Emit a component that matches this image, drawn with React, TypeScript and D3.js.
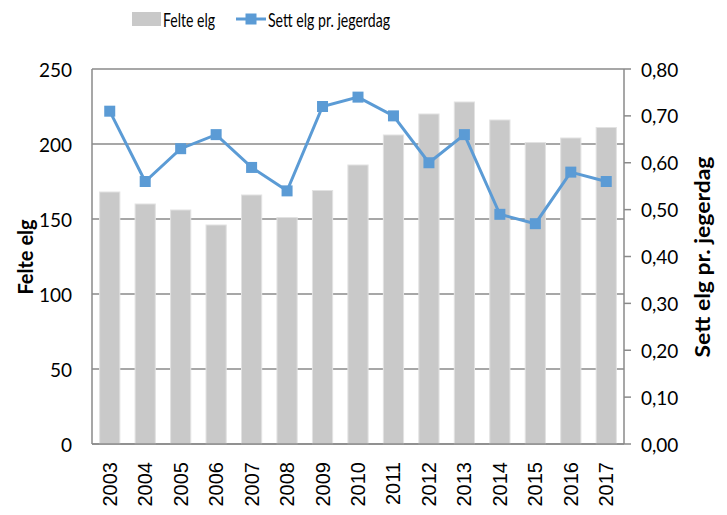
import React from "react";
import * as d3 from "d3";

const years = ["2003","2004","2005","2006","2007","2008","2009","2010","2011","2012","2013","2014","2015","2016","2017"];
const felteElg = [168,160,156,146,166,151,169,186,206,220,228,216,201,204,211];
const settElg = [0.71,0.56,0.63,0.66,0.59,0.54,0.72,0.74,0.70,0.60,0.66,0.49,0.47,0.58,0.56];
const leftTicks = [0,50,100,150,200,250];
const rightTicks = [0,0.1,0.2,0.3,0.4,0.5,0.6,0.7,0.8];

const W = 727, H = 515;
const M = { left: 92, right: 624, top: 69, bottom: 444 };
const FONT = "Lato, 'Open Sans', sans-serif";
const GRID = "#8a8a8a";
const BAR = "#c9c9c9";
const LINE = "#5b9bd5";

export default function App() {
  const x = d3.scaleBand<string>().domain(years).range([M.left, M.right]).paddingInner(0.43).paddingOuter(0.215);
  const yL = d3.scaleLinear().domain([0, 250]).range([M.bottom, M.top]);
  const yR = d3.scaleLinear().domain([0, 0.8]).range([M.bottom, M.top]);
  const fmt = (v: number) => v.toFixed(2).replace(".", ",");
  const line = d3.line<number>().x((_, i) => x(years[i])! + x.bandwidth() / 2).y(d => yR(d));
  const ms = 11;

  return (
    <svg width={W} height={H} style={{ position: "absolute", left: 0, top: 0, background: "#fff" }} fontFamily={FONT}>
      {leftTicks.map(t => (
        <line key={"g" + t} x1={M.left} x2={M.right} y1={yL(t)} y2={yL(t)} stroke={GRID} strokeWidth={1.5} />
      ))}
      {felteElg.map((v, i) => (
        <rect key={"b" + i} x={x(years[i])} y={yL(v)} width={x.bandwidth()} height={yL(0) - yL(v)} fill={BAR} stroke="#e2e2e2" strokeWidth={1} />
      ))}
      <line x1={M.left} x2={M.left} y1={M.top} y2={M.bottom} stroke={GRID} strokeWidth={1.5} />
      <line x1={M.right} x2={M.right} y1={M.top} y2={M.bottom} stroke={GRID} strokeWidth={1.5} />
      <line x1={M.left} x2={M.right} y1={M.bottom} y2={M.bottom} stroke={GRID} strokeWidth={1.5} />
      {rightTicks.map(t => (
        <line key={"rt" + t} x1={M.right} x2={M.right + 7} y1={yR(t)} y2={yR(t)} stroke={GRID} strokeWidth={1.5} />
      ))}
      {leftTicks.map(t => (
        <text key={"lt" + t} x={72} y={yL(t)} textAnchor="end" dominantBaseline="central" fontSize={19} fill="#000">{t}</text>
      ))}
      {rightTicks.map(t => (
        <text key={"rl" + t} x={641} y={yR(t)} textAnchor="start" dominantBaseline="central" fontSize={19} fill="#000">{fmt(t)}</text>
      ))}
      {years.map(yv => (
        <text key={"x" + yv} transform={`translate(${x(yv)! + x.bandwidth() / 2},462) rotate(-90)`} textAnchor="end" dominantBaseline="central" fontSize={20} fontFamily="'Liberation Sans', Arial, sans-serif" fill="#000">{yv}</text>
      ))}
      <path d={line(settElg) || ""} fill="none" stroke={LINE} strokeWidth={3} />
      {settElg.map((v, i) => (
        <rect key={"m" + i} x={x(years[i])! + x.bandwidth() / 2 - ms / 2} y={yR(v) - ms / 2} width={ms} height={ms} fill={LINE} />
      ))}
      <text transform={`translate(25,257) rotate(-90)`} textAnchor="middle" dominantBaseline="central" fontSize={20} fontWeight="bold" fill="#000">Felte elg</text>
      <text transform={`translate(702,257) rotate(-90)`} textAnchor="middle" dominantBaseline="central" fontSize={20} fontWeight="bold" fill="#000" textLength={201} lengthAdjust="spacingAndGlyphs">Sett elg pr. jegerdag</text>
      <rect x={132} y={12} width={29} height={14} fill={BAR} />
      <text x={163} y={19} dominantBaseline="central" fontSize={20} fill="#000" textLength={52} lengthAdjust="spacingAndGlyphs">Felte elg</text>
      <line x1={236} x2={266} y1={19} y2={19} stroke={LINE} strokeWidth={3} />
      <rect x={245.5} y={13.5} width={11} height={11} fill={LINE} />
      <text x={268} y={19} dominantBaseline="central" fontSize={20} fill="#000" textLength={122} lengthAdjust="spacingAndGlyphs">Sett elg pr. jegerdag</text>
    </svg>
  );
}
